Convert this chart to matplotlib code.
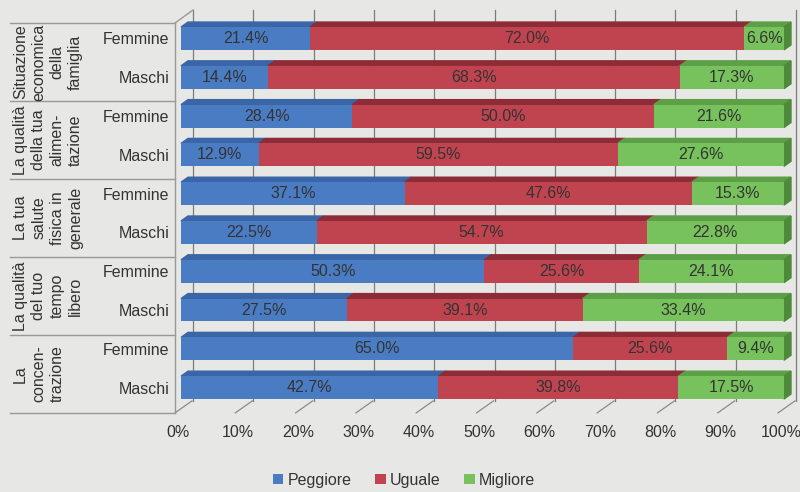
import numpy as np
import matplotlib
matplotlib.use("Agg")
import matplotlib.pyplot as plt
from matplotlib.patches import Polygon
from matplotlib.transforms import Affine2D

plt.rcParams['font.family'] = ['Liberation Sans', 'DejaVu Sans']

# data (percent per row, top to bottom)
groups = ["Situazione\neconomica\ndella\nfamiglia",
          "La qualità\ndella tua\nalimen-\ntazione",
          "La tua\nsalute\nfisica in\ngenerale",
          "La qualità\ndel tuo\ntempo\nlibero",
          "La\nconcen-\ntrazione"]
sexes = ["Femmine", "Maschi"]
series = ["Peggiore", "Uguale", "Migliore"]
peggiore = [21.4, 14.4, 28.4, 12.9, 37.1, 22.5, 50.3, 27.5, 65.0, 42.7]
uguale = [72.0, 68.3, 50.0, 59.5, 47.6, 54.7, 25.6, 39.1, 25.6, 39.8]
migliore = [6.6, 17.3, 21.6, 27.6, 15.3, 22.8, 24.1, 33.4, 9.4, 17.5]
ticks = np.arange(0, 101, 10)

front = ['#4a7cc4', '#c0444f', '#77c25c']
top = ['#3a65a6', '#8d2b37', '#5c9f46']
side_green = '#4d8a3a'
bg = '#e7e8e6'
txt = '#333333'
fs = 11.5

fig = plt.figure(figsize=(8, 4.92), dpi=100, facecolor=bg)
# axes area = front faces of the bars (pixel layout of the original)
ax = fig.add_axes([181 / 800, 1 - 407 / 492, 603 / 800, 387.9 / 492])
ax.set_xlim(0, 100)
ax.set_ylim(9.5, -0.5)
ax.patch.set_visible(False)
for s in ax.spines.values():
    s.set_visible(False)

sx = 6.03   # px per percent
sy = 38.8   # px per row
ddx, ddy = 7 / sx, 5 / sy      # bar depth
bx = 12 / sx                   # back wall offset
y_back_top, y_back_bot = (10 - 38.5) / sy, (401 - 38.5) / sy
y_front_top, y_front_bot = (23 - 38.5) / sy, (413 - 38.5) / sy
x_wall = -6 / sx

# back wall gridlines
for v in ticks:
    ax.plot([v + bx, v + bx], [y_back_top, y_back_bot], color='#7c7c7c', lw=0.9,
            zorder=1, clip_on=False)
    # floor tick marks
    ax.plot([v + x_wall, v + x_wall + 17 / sx], [y_front_bot, y_back_bot], color='#8a8a8a',
            lw=0.9, zorder=1, clip_on=False)

# left wall
ax.plot([x_wall, x_wall], [y_front_top, y_front_bot], color='#999999', lw=1, clip_on=False)
ax.plot([x_wall, bx], [y_front_top, y_back_top], color='#999999', lw=1, clip_on=False)

# group separators
x_left = (10 - 181) / sx
seps = [y_front_top + k * (y_front_bot - y_front_top) / 5 for k in range(6)]
for yy in seps:
    ax.plot([x_left, x_wall], [yy, yy], color='#999999', lw=1, clip_on=False)
for k, g in enumerate(groups):
    ax.text((13 - 181) / sx, (seps[k] + seps[k + 1]) / 2, g, rotation=90, ha='left',
            va='center', multialignment='center', fontsize=fs, color=txt, linespacing=1.28)

# bars
rows = np.arange(len(peggiore))
h = 0.59
left = np.zeros(len(rows))
handles = []
for i, vals in enumerate([peggiore, uguale, migliore]):
    vals = np.array(vals)
    b = ax.barh(rows, vals, left=left, height=h, color=front[i], zorder=3, label=series[i])
    handles.append(b)
    for r, l, w in zip(rows, left, vals):
        yt = r - h / 2
        ax.add_patch(Polygon([(l, yt), (l + w, yt), (l + w + ddx, yt - ddy), (l + ddx, yt - ddy)],
                             closed=True, color=top[i], zorder=2.5, clip_on=False))
        ax.text(l + w / 2, r, f"{w:.1f}%", ha='center', va='center', fontsize=fs,
                color=txt, zorder=5)
    left = left + vals

# right side face of the stacks
for r, tot in zip(rows, left):
    ax.add_patch(Polygon([(tot, r - h / 2), (tot + ddx, r - h / 2 - ddy),
                          (tot + ddx, r + h / 2 - ddy), (tot, r + h / 2)],
                         closed=True, color=side_green, zorder=2.5, clip_on=False))

ax.set_yticks(rows)
ax.set_yticklabels([sexes[r % 2] for r in rows], fontsize=fs, color=txt)
ax.set_xticks(ticks)
ax.set_xticklabels([f"{t}%" for t in ticks], fontsize=fs, color=txt)
ax.tick_params(axis='y', length=0, pad=8.6)
ax.tick_params(axis='x', length=0, pad=13)
for lbl in ax.get_xticklabels():
    lbl.set_transform(lbl.get_transform() + Affine2D().translate(-3, 0))

fig.legend(handles=handles, loc='center', bbox_to_anchor=(404 / 800, 1 - 480 / 492), ncol=3,
           frameon=False, handlelength=0.65, handleheight=0.65, handletextpad=0.25,
           columnspacing=1.5, fontsize=fs, labelcolor=txt)

fig.savefig("out.png", dpi=100, facecolor=bg)
